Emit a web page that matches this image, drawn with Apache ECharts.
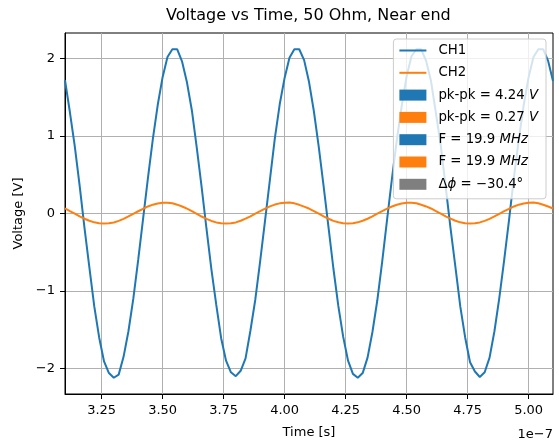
<!DOCTYPE html>
<html>
<head>
<meta charset="utf-8">
<title>Voltage vs Time, 50 Ohm, Near end</title>
<script src="https://cdn.jsdelivr.net/npm/echarts@6/dist/echarts.min.js"></script>
<style>
html, body {margin: 0; padding: 0; background: #fff;}
#main {width: 559px; height: 444px;}
</style>
</head>
<body>
<div id="main"></div>
<script>
// time axis is in units of 1e-7 s (offset text "1e-7" drawn at the corner)
var timeE7 = [
	3.10, 3.12, 3.14, 3.16, 3.18, 3.20, 3.22, 3.24, 3.26, 3.28,
	3.30, 3.32, 3.34, 3.36, 3.38, 3.40, 3.42, 3.44, 3.46, 3.48,
	3.50, 3.52, 3.54, 3.56, 3.58, 3.60, 3.62, 3.64, 3.66, 3.68,
	3.70, 3.72, 3.74, 3.76, 3.78, 3.80, 3.82, 3.84, 3.86, 3.88,
	3.90, 3.92, 3.94, 3.96, 3.98, 4.00, 4.02, 4.04, 4.06, 4.08,
	4.10, 4.12, 4.14, 4.16, 4.18, 4.20, 4.22, 4.24, 4.26, 4.28,
	4.30, 4.32, 4.34, 4.36, 4.38, 4.40, 4.42, 4.44, 4.46, 4.48,
	4.50, 4.52, 4.54, 4.56, 4.58, 4.60, 4.62, 4.64, 4.66, 4.68,
	4.70, 4.72, 4.74, 4.76, 4.78, 4.80, 4.82, 4.84, 4.86, 4.88,
	4.90, 4.92, 4.94, 4.96, 4.98, 5.00, 5.02, 5.04, 5.06, 5.08,
	5.10
];
var ch1 = [
	1.72, 1.31, 0.87, 0.36, -0.19, -0.70, -1.20, -1.60, -1.91, -2.06,
	-2.12, -2.08, -1.85, -1.52, -1.10, -0.60, -0.07, 0.46, 0.96, 1.40,
	1.76, 2.02, 2.12, 2.12, 1.96,
	1.69, 1.33, 0.85, 0.34, -0.20, -0.72, -1.18, -1.61, -1.90, -2.05,
	-2.10, -2.03, -1.87, -1.51, -1.11, -0.61, -0.09, 0.44, 0.97, 1.41,
	1.75, 2.01, 2.12, 2.12, 1.98,
	1.70, 1.32, 0.86, 0.35, -0.18, -0.71, -1.19, -1.59, -1.90, -2.07,
	-2.12, -2.06, -1.86, -1.53, -1.12, -0.62, -0.08, 0.45, 0.95, 1.39,
	1.77, 2.03, 2.12, 2.12, 1.97,
	1.71, 1.30, 0.88, 0.35, -0.19, -0.69, -1.20, -1.60, -1.92, -2.04,
	-2.11, -2.05, -1.86, -1.52, -1.09, -0.60, -0.08, 0.47, 0.96, 1.40,
	1.76, 2.02, 2.12, 2.12, 1.97,
	1.71
];
var ch2 = [
	0.066, 0.031, -0.003, -0.037, -0.068, -0.094, -0.114, -0.126, -0.128, -0.126,
	-0.116, -0.095, -0.069, -0.038, -0.004, 0.029, 0.061, 0.091, 0.114, 0.130,
	0.139, 0.140, 0.132, 0.114, 0.090,
	0.063, 0.030, -0.004, -0.039, -0.069, -0.096, -0.115, -0.125, -0.129, -0.127,
	-0.115, -0.093, -0.067, -0.036, -0.002, 0.031, 0.063, 0.092, 0.115, 0.131,
	0.140, 0.141, 0.131, 0.112, 0.089,
	0.064, 0.032, -0.002, -0.038, -0.068, -0.095, -0.113, -0.126, -0.128, -0.125,
	-0.114, -0.094, -0.068, -0.037, -0.003, 0.030, 0.062, 0.090, 0.113, 0.129,
	0.138, 0.140, 0.133, 0.113, 0.091,
	0.065, 0.031, -0.003, -0.037, -0.067, -0.094, -0.114, -0.127, -0.129, -0.126,
	-0.115, -0.095, -0.069, -0.037, -0.004, 0.030, 0.061, 0.091, 0.114, 0.130,
	0.139, 0.141, 0.132, 0.113, 0.090,
	0.065
];
var xTicks = [3.25, 3.50, 3.75, 4.00, 4.25, 4.50, 4.75, 5.00];
var yTicks = [-2, -1, 0, 1, 2];
var legendKeys = ['CH1', 'CH2', 'pp1', 'pp2', 'f1', 'f2', 'dphi'];
var legendText = {
	'CH1': 'CH1',
	'CH2': 'CH2',
	'pp1': 'pk-pk = 4.24 {it|V}',
	'pp2': 'pk-pk = 0.27 {it|V}',
	'f1': 'F = 19.9 {it|MHz}',
	'f2': 'F = 19.9 {it|MHz}',
	'dphi': 'Δ{it|ϕ} = −30.4°'
};
var legendColors = ['#1f77b4', '#ff7f0e', '#1f77b4', '#ff7f0e', '#1f77b4', '#ff7f0e', '#7f7f7f'];

var FONT = 'DejaVu Sans';

function pairs(xs, ys) {
	var out = [];
	for (var i = 0; i < xs.length; i++) {
		out.push([xs[i], ys[i]]);
	}
	return out;
}

function minusSign(v) {
	return v < 0 ? '\u2212' + Math.abs(v) : String(v);
}

var series = [
	{
		name: 'CH1', type: 'line', data: pairs(timeE7, ch1),
		symbol: 'none', color: legendColors[0],
		lineStyle: {width: 2, color: legendColors[0]}
	},
	{
		name: 'CH2', type: 'line', data: pairs(timeE7, ch2),
		symbol: 'none', color: legendColors[1],
		lineStyle: {width: 2, color: legendColors[1]}
	}
];
// the info entries only live in the legend
for (var i = 2; i < legendKeys.length; i++) {
	series.push({name: legendKeys[i], type: 'line', data: [], symbol: 'none', color: legendColors[i]});
}

var legendData = [];
for (var j = 0; j < legendKeys.length; j++) {
	if (j < 2) {
		// plain line handle, hide the marker in the middle
		legendData.push({name: legendKeys[j], itemStyle: {opacity: 0}});
	} else {
		legendData.push({name: legendKeys[j], icon: 'rect'});
	}
}

var myChart = echarts.init(document.getElementById('main'), null, {renderer: 'canvas'});
myChart.setOption({
	animation: false,
	backgroundColor: '#ffffff',
	title: {
		text: 'Voltage vs Time, 50 Ohm, Near end',
		left: 161,
		top: 3,
		textStyle: {fontFamily: FONT, fontSize: 16, fontWeight: 'normal', color: '#000'}
	},
	grid: {
		left: 65, right: 6, top: 33, bottom: 47,
		show: true, borderColor: '#000', borderWidth: 1
	},
	legend: {
		orient: 'vertical',
		right: 13,
		top: 39,
		itemWidth: 27,
		itemHeight: 11,
		itemGap: 9.3,
		padding: [5, 8, 8, 5],
		backgroundColor: 'rgba(255,255,255,0.8)',
		borderColor: '#cccccc',
		borderWidth: 1,
		borderRadius: 3,
		selectedMode: false,
		data: legendData,
		formatter: function (name) {
			return legendText[name];
		},
		textStyle: {
			fontFamily: FONT, fontSize: 13.3, color: '#000', lineHeight: 13,
			padding: [0, 0, 0, 7],
			rich: {it: {fontFamily: FONT, fontSize: 13.3, fontStyle: 'italic', lineHeight: 13}}
		}
	},
	xAxis: {
		type: 'value',
		min: 3.10,
		max: 5.10,
		name: 'Time [s]',
		nameLocation: 'middle',
		nameGap: 32,
		nameTextStyle: {fontFamily: FONT, fontSize: 13, color: '#000'},
		axisLine: {show: true, onZero: false, lineStyle: {color: '#000', width: 1}},
		axisTick: {show: true, customValues: xTicks, length: 5, lineStyle: {color: '#000'}},
		axisLabel: {
			customValues: xTicks, margin: 10,
			fontFamily: FONT, fontSize: 13, color: '#000',
			formatter: function (v) { return v.toFixed(2); }
		},
		splitLine: {show: true, lineStyle: {color: '#b0b0b0', width: 1}}
	},
	yAxis: {
		type: 'value',
		min: -2.33,
		max: 2.33,
		name: 'Voltage [V]',
		nameLocation: 'middle',
		nameGap: 33,
		nameTextStyle: {fontFamily: FONT, fontSize: 13, color: '#000'},
		axisLine: {show: true, onZero: false, lineStyle: {color: '#000', width: 1}},
		axisTick: {show: true, customValues: yTicks, length: 5, lineStyle: {color: '#000'}},
		axisLabel: {
			customValues: yTicks, margin: 10,
			fontFamily: FONT, fontSize: 13, color: '#000',
			formatter: minusSign
		},
		splitLine: {show: true, lineStyle: {color: '#b0b0b0', width: 1}}
	},
	graphic: [
		{
			type: 'text', right: 6, top: 428,
			style: {text: '1e\u22127', font: '13px "DejaVu Sans"', fill: '#000'}
		}
	],
	series: series
});
</script>
</body>
</html>
